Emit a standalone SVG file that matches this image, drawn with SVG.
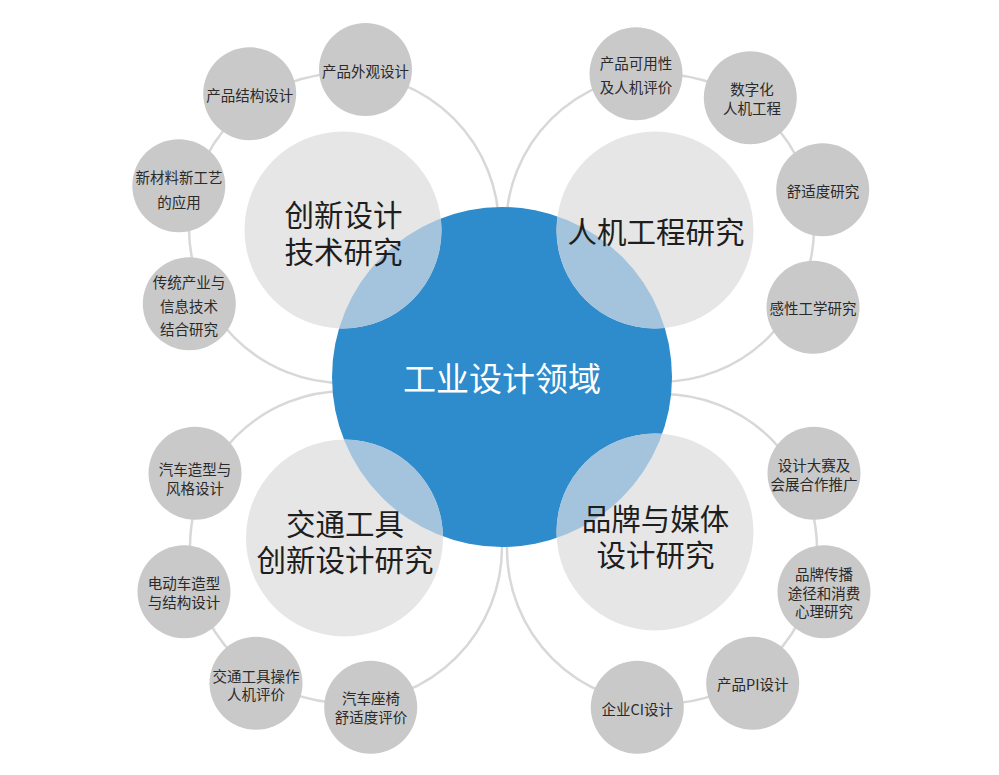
<svg xmlns="http://www.w3.org/2000/svg" width="999" height="775" viewBox="0 0 999 775">
<style>
  text { font-family: "Noto Sans CJK SC", "Noto Sans", sans-serif; text-anchor: middle; dominant-baseline: central; }
  .arc { fill: none; stroke: #d8d8d8; stroke-width: 2.5; }
  .small { fill: #c9c9c9; }
  .big { fill: #e6e6e6; }
  .ov { fill: #a4c3dc; }
  .st { font-size: 14.5px; fill: #2a2a2a; }
  .bt { font-size: 29.5px; fill: #1e1e1e; }
  .ct { font-size: 33px; fill: #ffffff; }
</style>
<defs>
  <clipPath id="blueClip"><circle cx="502" cy="377" r="170"/></clipPath>
</defs>
<rect width="999" height="775" fill="#ffffff"/>
<g id="connectors">
  <circle class="arc" cx="344" cy="228" r="155"/>
  <circle class="arc" cx="660" cy="228" r="154"/>
  <circle class="arc" cx="346" cy="547" r="156"/>
  <circle class="arc" cx="662" cy="549" r="155"/>
</g>
<g id="n-waiguan"><circle class="small" cx="365.5" cy="69.5" r="46.5"/><text class="st" x="365.5" y="70">产品外观设计</text></g>
<g id="n-jiegou"><circle class="small" cx="249.7" cy="93.7" r="46.5"/><text class="st" x="249.7" y="94">产品结构设计</text></g>
<g id="n-cailiao"><circle class="small" cx="178.8" cy="185.7" r="46.5"/><text class="st" x="179" y="176.5">新材料新工艺</text><text class="st" x="179" y="201.5">的应用</text></g>
<g id="n-chuantong"><circle class="small" cx="189.3" cy="303.7" r="46.5"/><text class="st" x="189" y="281.5">传统产业与</text><text class="st" x="189" y="305.5">信息技术</text><text class="st" x="189" y="328.5">结合研究</text></g>
<g id="n-keyong"><circle class="small" cx="636" cy="73.7" r="46.5"/><text class="st" x="636" y="62.5">产品可用性</text><text class="st" x="636" y="86">及人机评价</text></g>
<g id="n-shuzihua"><circle class="small" cx="750.3" cy="97.8" r="46.5"/><text class="st" x="752" y="88.5">数字化</text><text class="st" x="752" y="107.5">人机工程</text></g>
<g id="n-shushidu"><circle class="small" cx="822.7" cy="189.7" r="46.5"/><text class="st" x="823" y="190">舒适度研究</text></g>
<g id="n-ganxing"><circle class="small" cx="813" cy="307.3" r="46.5"/><text class="st" x="813" y="307.5">感性工学研究</text></g>
<g id="n-qichezaoxing"><circle class="small" cx="195" cy="473.3" r="46.5"/><text class="st" x="195" y="468.5">汽车造型与</text><text class="st" x="195" y="487.5">风格设计</text></g>
<g id="n-diandongche"><circle class="small" cx="184" cy="591.7" r="46.5"/><text class="st" x="184" y="582">电动车造型</text><text class="st" x="184" y="601">与结构设计</text></g>
<g id="n-caozuo"><circle class="small" cx="256" cy="683.3" r="46.5"/><text class="st" x="256" y="675">交通工具操作</text><text class="st" x="256" y="693.5">人机评价</text></g>
<g id="n-zuoyi"><circle class="small" cx="370.7" cy="707.3" r="46.5"/><text class="st" x="371" y="697">汽车座椅</text><text class="st" x="371" y="716">舒适度评价</text></g>
<g id="n-dasai"><circle class="small" cx="814" cy="473.3" r="46.5"/><text class="st" x="814" y="464">设计大赛及</text><text class="st" x="814" y="483.5">会展合作推广</text></g>
<g id="n-chuanbo"><circle class="small" cx="824" cy="591.7" r="46.5"/><text class="st" x="824" y="573">品牌传播</text><text class="st" x="824" y="592">途径和消费</text><text class="st" x="824" y="610.5">心理研究</text></g>
<g id="n-pi"><circle class="small" cx="752.7" cy="683.3" r="46.5"/><text class="st" x="752.7" y="683.5">产品PI设计</text></g>
<g id="n-ci"><circle class="small" cx="637.3" cy="707.3" r="46.5"/><text class="st" x="637.3" y="708.5">企业CI设计</text></g>
<g id="n-center"><circle cx="502" cy="377" r="170" fill="#2e8bcc"/><text class="ct" x="502" y="377">工业设计领域</text></g>
<g id="n-chuangxin"><circle class="big" cx="343" cy="230" r="98.5"/><circle class="ov" cx="343" cy="230" r="98.5" clip-path="url(#blueClip)"/><text class="bt" x="343.5" y="212.5">创新设计</text><text class="bt" x="343.5" y="250">技术研究</text></g>
<g id="n-renji"><circle class="big" cx="655" cy="230" r="98.5"/><circle class="ov" cx="655" cy="230" r="98.5" clip-path="url(#blueClip)"/><text class="bt" x="656" y="230">人机工程研究</text></g>
<g id="n-jiaotong"><circle class="big" cx="344.5" cy="538" r="98.5"/><circle class="ov" cx="344.5" cy="538" r="98.5" clip-path="url(#blueClip)"/><text class="bt" x="345" y="521.5">交通工具</text><text class="bt" x="345" y="558">创新设计研究</text></g>
<g id="n-pinpai"><circle class="big" cx="655" cy="532" r="98.5"/><circle class="ov" cx="655" cy="532" r="98.5" clip-path="url(#blueClip)"/><text class="bt" x="655.5" y="516.5">品牌与媒体</text><text class="bt" x="655.5" y="553">设计研究</text></g>
</svg>
